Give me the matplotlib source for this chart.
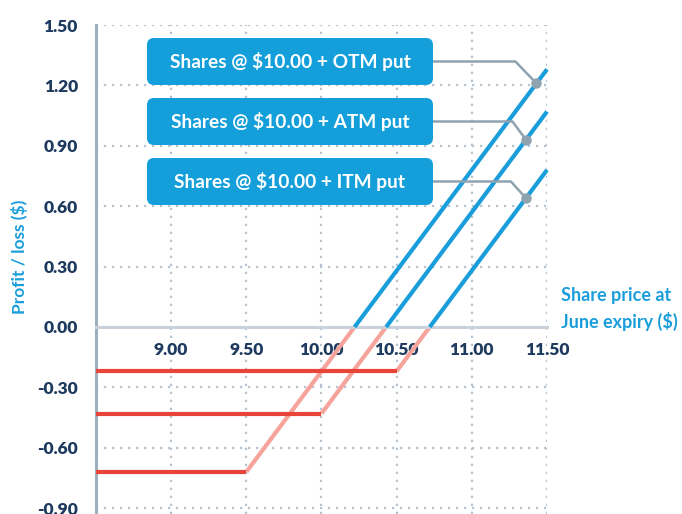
import matplotlib
matplotlib.use("Agg")
import matplotlib.pyplot as plt
from matplotlib.patches import FancyBboxPatch
from matplotlib.transforms import IdentityTransform

# ---- data ----
series_names = ["Shares @ $10.00 + OTM put",
                "Shares @ $10.00 + ATM put",
                "Shares @ $10.00 + ITM put"]
strikes = [9.50, 10.00, 10.50]
max_loss = [-0.72, -0.43, -0.22]
price_min, price_max = 8.50, 11.50
label_points_x = [11.43, 11.36, 11.36]   # where each callout touches its line
elbow_x = [11.29, 11.27, 11.26]

x_ticks = [9.00, 9.50, 10.00, 10.50, 11.00, 11.50]
x_tick_labels = ["9.00", "9.50", "10.00", "10.50", "11.00", "11.50"]
y_ticks = [1.50, 1.20, 0.90, 0.60, 0.30, 0.00, -0.30, -0.60, -0.90]
y_tick_labels = ["1.50", "1.20", "0.90", "0.60", "0.30", "0.00", "-0.30", "-0.60", "-0.90"]

# ---- style ----
FONT = "Lato"
RED = "#e9443a"
PINK = "#f5a39b"
BLUE = "#1a9edb"
BOX = "#149fda"
NAVY = "#1e3a5f"
GRID = "#b7c3ce"
SPINE = "#9eafbe"
ZERO = "#c9d2da"
CONN = "#8ea2b0"

W, H = 682, 514
fig = plt.figure(figsize=(W / 100, H / 100), dpi=100)
ax = fig.add_axes([96 / W, 0, (547 - 96) / W, (514 - 25) / H])
ax.set_xlim(price_min, price_max)
ax.set_ylim(-0.929, 1.50)

for s in ["top", "right"]:
    ax.spines[s].set_visible(False)
ax.spines["left"].set_color(SPINE)
ax.spines["left"].set_linewidth(2.2)
ax.spines["bottom"].set_position(("data", 0))
ax.spines["bottom"].set_color(ZERO)
ax.spines["bottom"].set_linewidth(2.2)

ax.set_xticks(x_ticks)
ax.set_xticklabels(x_tick_labels)
ax.set_yticks(y_ticks)
ax.set_yticklabels(y_tick_labels)
ax.tick_params(axis="both", length=0, labelsize=12.5, labelcolor=NAVY)
ax.tick_params(axis="y", pad=13)
ax.tick_params(axis="x", pad=11)
for lab in ax.get_xticklabels() + ax.get_yticklabels():
    lab.set_fontfamily(FONT)
    lab.set_fontweight("heavy")

ax.grid(True, color=GRID, linestyle=(0, (1, 2.6)), linewidth=1.6)
ax.set_axisbelow(True)

for k, loss, name in zip(strikes, max_loss, series_names):
    be = k - loss
    ax.plot([price_min, k], [loss, loss], color=RED, lw=3.0, solid_capstyle="butt", zorder=3)
    ax.plot([k, be], [loss, 0], color=PINK, lw=3.0, solid_capstyle="butt", zorder=2)
    ax.plot([be, price_max], [0, price_max - be], color=BLUE, lw=3.0,
            solid_capstyle="butt", zorder=3, clip_on=False)

# callout boxes
box_tops = [38, 98, 158]
box_h = 47
box_left, box_right = 147, 433
itrans = IdentityTransform()
for i, name in enumerate(series_names):
    top = box_tops[i]
    y0 = H - (top + box_h)
    p = FancyBboxPatch((box_left, y0), box_right - box_left, box_h,
                       boxstyle="round,pad=0,rounding_size=7",
                       transform=itrans, facecolor=BOX, edgecolor="none", zorder=5)
    fig.add_artist(p)
    fig.text((box_left + box_right) / 2 / W, (y0 + box_h / 2) / H, name,
             ha="center", va="center", color="white", fontsize=13.8,
             fontweight="bold", family=FONT, zorder=6)
    # connector
    yc_pix = top + box_h / 2
    inv = ax.transData.inverted()
    xb, yb = inv.transform((box_right, H - yc_pix))
    k, loss = strikes[i], max_loss[i]
    px = label_points_x[i]
    py = px - (k - loss)
    ax.plot([xb, elbow_x[i], px], [yb, yb, py], color=CONN, lw=1.8, zorder=4, clip_on=False)
    ax.plot([px], [py], "o", color=CONN, ms=6.5, zorder=4, clip_on=False)

# axis labels
fig.text(20 / W, 1 - 257 / H, "Profit / loss ($)", rotation=90, ha="center", va="center",
         color=BLUE, fontsize=12.5, fontweight="bold", family=FONT)
fig.text(561 / W, 1 - 309 / H, "Share price at\nJune expiry ($)", ha="left", va="center",
         color=BLUE, fontsize=13, fontweight="bold", family=FONT, linespacing=1.45)

fig.savefig("out.png", dpi=100, facecolor="white")
